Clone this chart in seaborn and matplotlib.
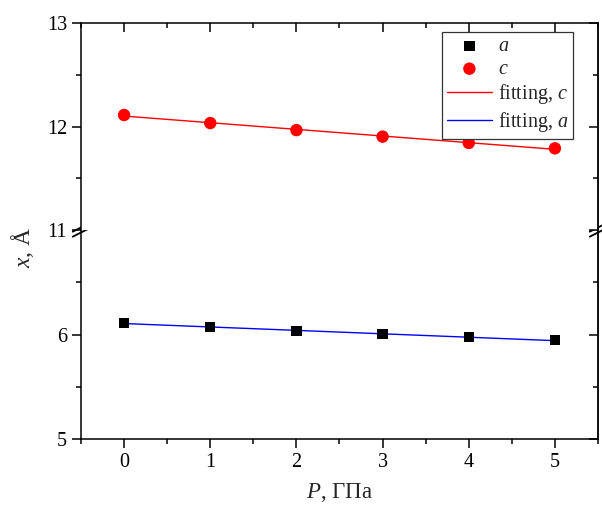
import numpy as np
import pandas as pd
import seaborn as sns
import matplotlib.pyplot as plt

# pressure, GPa
pressure = [0, 1, 2, 3, 4, 5]
# lattice parameters (Angstrom)
a_values = [6.112, 6.069, 6.033, 6.004, 5.975, 5.945]
c_values = [12.111, 12.033, 11.965, 11.902, 11.841, 11.789]

x_ticks = [0, 1, 2, 3, 4, 5]
upper_ticks = [11, 12, 13]
lower_ticks = [5, 6]


def add_break(ax, y):
    # small double slash across left and right spines
    dx, dy, gap = 0.016, 0.02, 0.012
    for x0 in (0, 1):
        for off in (-gap, gap):
            ax.plot([x0 - dx, x0 + dx], [y + off - dy, y + off + dy],
                    transform=ax.transAxes, color='black', lw=1.3,
                    clip_on=False, zorder=10)


def style_axis(ax):
    ax.tick_params(which='both', left=True, right=True, top=True, bottom=True,
                   labelsize=14.5, width=1.1, colors='black')
    ax.tick_params(which='major', length=6.5)
    ax.tick_params(which='minor', length=3.5)
    ax.tick_params(axis='y', which='both', direction='out')
    ax.tick_params(axis='x', which='both', direction='out')
    for side in ax.spines.values():
        side.set_linewidth(1.1)
        side.set_color('black')


def main():
    sns.set_style('ticks')
    plt.rcParams['font.family'] = ['Liberation Serif', 'DejaVu Serif']
    plt.rcParams['mathtext.fontset'] = 'custom'
    plt.rcParams['mathtext.rm'] = 'Liberation Serif'
    plt.rcParams['mathtext.it'] = 'Liberation Serif:italic'

    df = pd.DataFrame({'P': pressure, 'a': a_values, 'c': c_values})
    fit_a = np.polyval(np.polyfit(df['P'], df['a'], 1), df['P'])
    fit_c = np.polyval(np.polyfit(df['P'], df['c'], 1), df['P'])

    fig = plt.figure(figsize=(6.02, 5.07), dpi=100)
    ax_low = fig.add_axes([81 / 602, 68 / 507, 517 / 602, 209 / 507])
    ax_up = fig.add_axes([81 / 602, 277 / 507, 517 / 602, 207 / 507])

    sns.lineplot(x=df['P'], y=fit_c, ax=ax_up, color='red', lw=1.0,
                 label=r'fitting, $c$', zorder=2)
    sns.scatterplot(data=df, x='P', y='c', ax=ax_up, color='red', marker='o',
                    s=80, edgecolor='none', label=r'$c$', zorder=3)
    sns.lineplot(x=df['P'], y=fit_a, ax=ax_low, color='blue', lw=1.0,
                 label=r'fitting, $a$', zorder=2)
    sns.scatterplot(data=df, x='P', y='a', ax=ax_low, color='black', marker='s',
                    s=55, edgecolor='none', label=r'$a$', zorder=3)

    for ax in (ax_up, ax_low):
        style_axis(ax)
        ax.set_xlim(-0.5, 5.5)
        ax.set_xticks(x_ticks)
        ax.set_xticks(np.arange(-0.5, 5.6, 0.5), minor=True)
        ax.set_xlabel('')
        ax.set_ylabel('')
        ax.tick_params(axis='y', which='both', labelright=False)
        ax.tick_params(axis='both', which='both', labeltop=False)

    ax_up.set_ylim(11, 13)
    ax_up.set_yticks(upper_ticks)
    ax_up.set_yticks([11.5, 12.5], minor=True)
    ax_up.spines['bottom'].set_visible(False)
    ax_up.tick_params(axis='x', which='both', bottom=False, labelbottom=False,
                      direction='in')
    ax_up.tick_params(axis='y', which='both', right=False)

    ax_low.set_ylim(5, 7)
    ax_low.set_yticks(lower_ticks)
    ax_low.set_yticks([5.5, 6.5], minor=True)
    ax_low.spines['top'].set_visible(False)
    ax_low.tick_params(axis='x', which='both', top=False)
    ax_low.tick_params(axis='y', which='both', right=False)

    # inward ticks on the right spine
    for ax in (ax_up, ax_low):
        twin = ax.secondary_yaxis('right')
        twin.set_yticks(ax.get_yticks())
        twin.set_yticks(ax.get_yticks(minor=True), minor=True)
        twin.tick_params(which='both', direction='in', labelright=False,
                         width=1.1, colors='black')
        twin.tick_params(which='major', length=6.5)
        twin.tick_params(which='minor', length=3.5)
        twin.spines['right'].set_linewidth(1.1)

    add_break(ax_low, 1.0)

    h_up, l_up = ax_up.get_legend_handles_labels()
    h_low, l_low = ax_low.get_legend_handles_labels()
    handles = dict(zip(l_up + l_low, h_up + h_low))
    order = [r'$a$', r'$c$', r'fitting, $c$', r'fitting, $a$']
    ax_low.get_legend().remove()
    ax_up.legend([handles[k] for k in order], order, loc='upper right',
                 bbox_to_anchor=(0.952, 0.955), borderaxespad=0,
                 fontsize=14.5, frameon=True,
                 fancybox=False, framealpha=1, edgecolor='#333333',
                 handlelength=2.2, borderpad=0.25, labelspacing=0.17,
                 handletextpad=0.3)
    ax_up.get_legend().get_frame().set_linewidth(0.9)

    fig.text(22 / 602, 1 - 247 / 507, r'$x$, Å', rotation=90, fontsize=17,
             ha='center', va='center')
    fig.text(340 / 602, 1 - 493 / 507, r'$P$, ГПа', fontsize=16.5,
             ha='center', va='center')

    fig.savefig('out.png', dpi=100)


if __name__ == '__main__':
    main()
